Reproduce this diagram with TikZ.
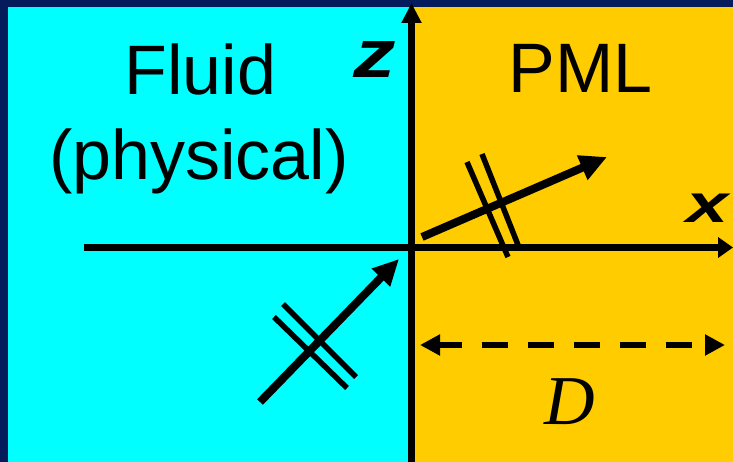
\documentclass[tikz,border=0pt]{standalone}
\usepackage{fontspec}
\setmainfont{Liberation Sans}
\newfontfamily\dserif{Liberation Serif}
\usetikzlibrary{arrows.meta}
\definecolor{navy}{HTML}{041C5C}
\definecolor{fluidcyan}{HTML}{00FFFF}
\definecolor{pmlyellow}{HTML}{FFCC00}
\tikzset{
  lbl/.style={inner sep=0pt, anchor=base, font=\fontsize{70}{80}\selectfont},
  axislbl/.style={inner sep=0pt, anchor=base},
  axis/.style={line width=7.5pt, draw=black},
  wave/.style={line width=8pt, draw=black},
  bar/.style={line width=5.5pt, draw=black},
}
\begin{document}
\begin{tikzpicture}[x=1pt,y=-1pt]
\useasboundingbox (0,0) rectangle (733,462);
% background
\fill[navy] (0,0) rectangle (733,462);
\fill[fluidcyan] (8,7) rectangle (411.5,462);
\fill[pmlyellow] (411.5,7) rectangle (733,462);
% coordinates
\coordinate (zbot) at (411.5,462);
\coordinate (ztop) at (411.5,3);
\coordinate (xleft) at (84,247.5);
\coordinate (xright) at (733,247.5);
\coordinate (ps) at (422,237);
\coordinate (pe) at (607,157);
\coordinate (fs) at (260,402);
\coordinate (fe) at (399,259);
\coordinate (dl) at (420,345);
\coordinate (dr) at (725,345);
\coordinate (pb1a) at (467,162); \coordinate (pb1b) at (508,257);
\coordinate (pb2a) at (482,154); \coordinate (pb2b) at (520,250);
\coordinate (fb1a) at (283,304); \coordinate (fb1b) at (356,377);
\coordinate (fb2a) at (274,317); \coordinate (fb2b) at (347,388);
% axes
\draw[axis, -{Triangle[length=20pt,width=19pt]}] (zbot) -- (ztop);
\draw[axis, -{Triangle[length=15pt,width=20pt]}] (xleft) -- (xright);
% waves
\draw[wave, -{Triangle[length=27pt,width=25pt]}] (ps) -- (pe);
\draw[bar] (pb1a) -- (pb1b);
\draw[bar] (pb2a) -- (pb2b);
\draw[wave, -{Triangle[length=26pt,width=24pt]}] (fs) -- (fe);
\draw[bar] (fb1a) -- (fb1b);
\draw[bar] (fb2a) -- (fb2b);
% width D
\draw[line width=6pt, dash pattern=on 26pt off 20pt, dash phase=3pt,
  {Triangle[length=20pt,width=20pt]}-{Triangle[length=20pt,width=20pt]}] (dl) -- (dr);
% labels
\node[lbl] (fluid) at (200.5,95) {Fluid};
\node[lbl] (phys) at (199,180) {(physical)};
\node[lbl] (pml) at (580.5,93) {PML};
\node[axislbl, xscale=1.25, font=\fontsize{68}{80}\selectfont\bfseries\itshape] (zlab) at (375,78) {z};
\node[axislbl, xscale=1.4, font=\fontsize{54}{60}\selectfont\bfseries\itshape, anchor=base west] (xlab) at (686,223) {x};
\node[inner sep=0pt, anchor=base, font=\fontsize{70}{80}\selectfont\dserif\itshape] (dlab) at (570,424) {D};
\end{tikzpicture}
\end{document}
